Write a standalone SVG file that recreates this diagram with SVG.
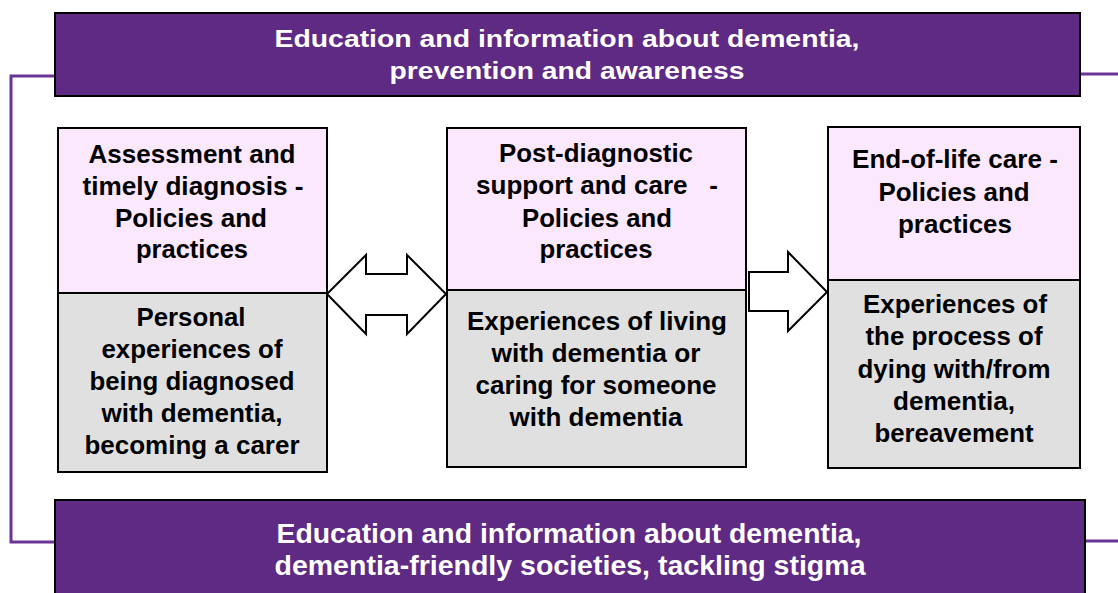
<svg xmlns="http://www.w3.org/2000/svg" width="1118" height="593" viewBox="0 0 1118 593">
<style>
.bar{fill:#5E2A84;stroke:#000;stroke-width:2}
.pink{fill:#FCE8FC;stroke:#000;stroke-width:2}
.gray{fill:#E0E0E0;stroke:#000;stroke-width:2}
.arrow{fill:#fff;stroke:#000;stroke-width:2;stroke-linejoin:miter}
.conn{fill:none;stroke:#6A3494;stroke-width:3}
.wt{font-family:"Liberation Sans",Arial,sans-serif;font-weight:bold;fill:#fff;text-anchor:middle}
.bt{font-family:"Liberation Sans",Arial,sans-serif;font-weight:bold;font-size:25px;fill:#000;text-anchor:middle}
</style>
<rect width="1118" height="593" fill="#fff"/>
<g id="connectors">
<polyline class="conn" points="56,76 11,76 11,542 56,542"/>
<line class="conn" x1="1080" y1="74" x2="1118" y2="74"/>
<line class="conn" x1="1085" y1="541" x2="1118" y2="541"/>
<polygon class="arrow" points="327,294 366,255 366,274 407,274 407,255 446,294 407,334 407,315 366,315 366,334"/>
<polygon class="arrow" points="749,272 788,272 788,252 827,292 788,331 788,311 749,311"/>
</g>
<g id="top-bar">
<rect class="bar" x="55" y="13" width="1025" height="83"/>
<text class="wt" font-size="23" x="567" y="47" textLength="585" lengthAdjust="spacingAndGlyphs">Education and information about dementia,</text>
<text class="wt" font-size="23" x="567" y="79" textLength="355" lengthAdjust="spacingAndGlyphs">prevention and awareness</text>
</g>
<g id="box-assessment">
<rect class="pink" x="58" y="128" width="269" height="165"/>
<rect class="gray" x="58" y="293" width="269" height="179"/>
<text class="bt" x="192" y="163" textLength="207" lengthAdjust="spacingAndGlyphs">Assessment and</text>
<text class="bt" x="193" y="195" textLength="221" lengthAdjust="spacingAndGlyphs">timely diagnosis -</text>
<text class="bt" x="191" y="227" textLength="152" lengthAdjust="spacingAndGlyphs">Policies and</text>
<text class="bt" x="192" y="258" textLength="112" lengthAdjust="spacingAndGlyphs">practices</text>
<text class="bt" x="191" y="326" textLength="109" lengthAdjust="spacingAndGlyphs">Personal</text>
<text class="bt" x="192" y="358" textLength="181" lengthAdjust="spacingAndGlyphs">experiences of</text>
<text class="bt" x="192" y="390" textLength="205" lengthAdjust="spacingAndGlyphs">being diagnosed</text>
<text class="bt" x="192" y="422" textLength="181" lengthAdjust="spacingAndGlyphs">with dementia,</text>
<text class="bt" x="192" y="454" textLength="215" lengthAdjust="spacingAndGlyphs">becoming a carer</text>
</g>
<g id="box-post-diagnostic">
<rect class="pink" x="447" y="128" width="299" height="162"/>
<rect class="gray" x="447" y="290" width="299" height="177"/>
<text class="bt" x="596" y="162" textLength="194" lengthAdjust="spacingAndGlyphs">Post-diagnostic</text>
<text class="bt" x="597" y="194" textLength="242" lengthAdjust="spacingAndGlyphs" xml:space="preserve" style="white-space:pre">support and care   -</text>
<text class="bt" x="597" y="227" textLength="150" lengthAdjust="spacingAndGlyphs">Policies and</text>
<text class="bt" x="596" y="258" textLength="113" lengthAdjust="spacingAndGlyphs">practices</text>
<text class="bt" x="597" y="330" textLength="260" lengthAdjust="spacingAndGlyphs">Experiences of living</text>
<text class="bt" x="596" y="362" textLength="209" lengthAdjust="spacingAndGlyphs">with dementia or</text>
<text class="bt" x="596" y="394" textLength="241" lengthAdjust="spacingAndGlyphs">caring for someone</text>
<text class="bt" x="596" y="426" textLength="173" lengthAdjust="spacingAndGlyphs">with dementia</text>
</g>
<g id="box-end-of-life">
<rect class="pink" x="828" y="127" width="252" height="153"/>
<rect class="gray" x="828" y="280" width="252" height="188"/>
<text class="bt" x="955" y="168" textLength="206" lengthAdjust="spacingAndGlyphs">End-of-life care -</text>
<text class="bt" x="954" y="201" textLength="151" lengthAdjust="spacingAndGlyphs">Policies and</text>
<text class="bt" x="955" y="233" textLength="114" lengthAdjust="spacingAndGlyphs">practices</text>
<text class="bt" x="955" y="313" textLength="184" lengthAdjust="spacingAndGlyphs">Experiences of</text>
<text class="bt" x="954" y="345" textLength="177" lengthAdjust="spacingAndGlyphs">the process of</text>
<text class="bt" x="954" y="378" textLength="193" lengthAdjust="spacingAndGlyphs">dying with/from</text>
<text class="bt" x="954" y="410" textLength="122" lengthAdjust="spacingAndGlyphs">dementia,</text>
<text class="bt" x="954" y="442" textLength="159" lengthAdjust="spacingAndGlyphs">bereavement</text>
</g>
<g id="bottom-bar">
<rect class="bar" x="55" y="500" width="1030" height="100"/>
<text class="wt" font-size="27" x="569" y="543" textLength="585" lengthAdjust="spacingAndGlyphs">Education and information about dementia,</text>
<text class="wt" font-size="27" x="570" y="575" textLength="591" lengthAdjust="spacingAndGlyphs">dementia-friendly societies, tackling stigma</text>
</g>
</svg>
